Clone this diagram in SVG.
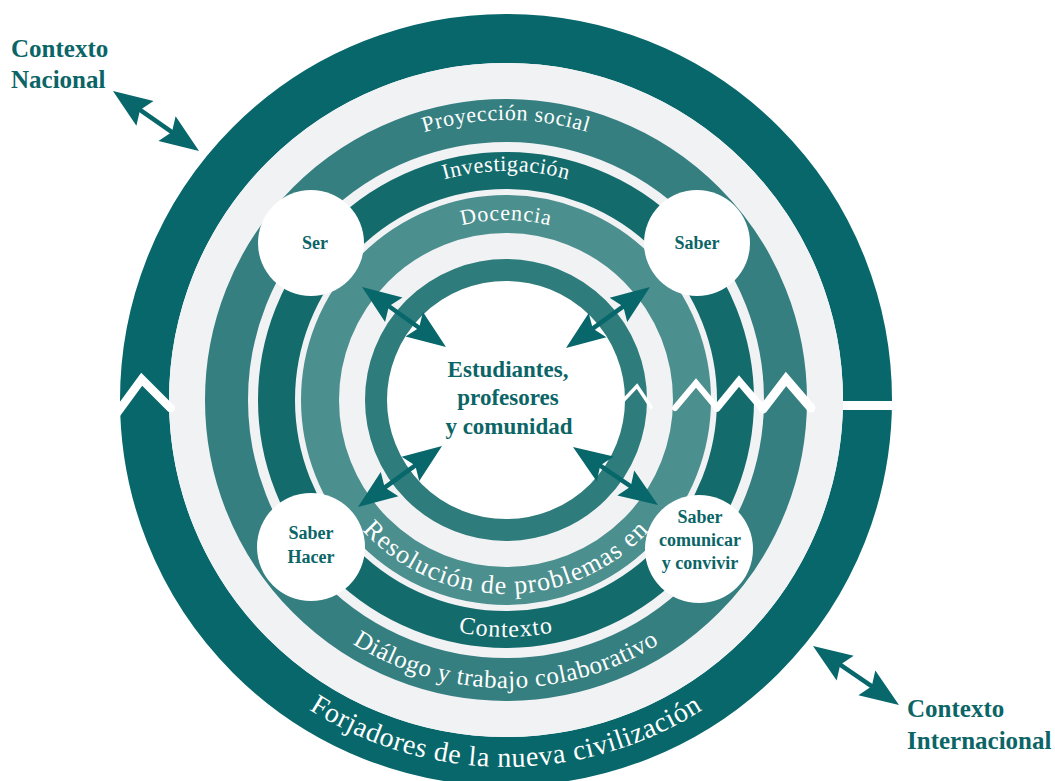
<svg xmlns="http://www.w3.org/2000/svg" xmlns:xlink="http://www.w3.org/1999/xlink" width="1055" height="781" viewBox="0 0 1055 781">
  <style>
    .ring { fill: none; }
    .band { fill: #ffffff; font-family: "Liberation Serif", "DejaVu Serif", serif; }
    .lbl { fill: #0b6567; font-family: "Liberation Serif", "DejaVu Serif", serif; font-weight: bold; text-anchor: middle; }
    .side { text-anchor: start; }
    .node { fill: #ffffff; }
    .zig { fill: none; stroke: #ffffff; stroke-linecap: round; stroke-linejoin: miter; }
    .arrow { stroke: #07676a; stroke-width: 4.5; fill: none; marker-start: url(#head); marker-end: url(#head); }
  </style>
  <defs>
    <marker id="head" markerUnits="userSpaceOnUse" markerWidth="40" markerHeight="32" refX="27" refY="16" orient="auto-start-reverse" overflow="visible">
      <path d="M39,16 L0,1 L6,16 L0,31 Z" fill="#07676a"/>
    </marker>
    <!-- text baselines: top arcs run left to right over the top, bottom arcs run left to right under the bottom -->
    <path id="pTopProy" d="M 226,400 A 280 280 0 0 1 786,400"/>
    <path id="pTopInv" d="M 277,400 A 229 229 0 0 1 735,400"/>
    <path id="pTopDoc" d="M 326,400 A 180 180 0 0 1 686,400"/>
    <path id="pBotRes" d="M 312,400 A 194 194 0 0 0 700,400"/>
    <path id="pBotCtx" d="M 269,400 A 237 237 0 0 0 743,400"/>
    <path id="pBotDia" d="M 218,400 A 288 288 0 0 0 794,400"/>
    <path id="pBotFor" d="M 139,400 A 367 367 0 0 0 873,400"/>
  </defs>

  <rect width="1055" height="781" fill="#ffffff"/>

  <!-- concentric bands -->
  <g id="rings">
    <circle cx="506" cy="400" r="361.5" class="ring" stroke="#07676a" stroke-width="49"/>
    <circle cx="506" cy="400" r="337" fill="#f1f2f4"/>
    <circle cx="506" cy="400" r="279.5" class="ring" stroke="#357f80" stroke-width="43"/>
    <circle cx="506" cy="400" r="229.5" class="ring" stroke="#146b6c" stroke-width="37"/>
    <circle cx="506" cy="400" r="186" class="ring" stroke="#4b8f8e" stroke-width="38"/>
    <circle cx="506" cy="400" r="130" fill="#ffffff" stroke="#2e7c7b" stroke-width="22"/>
  </g>

  <!-- white breaks across the bands -->
  <g id="breaks">
    <polyline class="zig" stroke-width="8.5" points="117,413 141.7,379.3 170.7,408.3"/>
    <polyline class="zig" stroke-width="3.5" points="621,403 637,386 651,407"/>
    <polyline class="zig" stroke-width="6" points="675,408 696,383 717,408"/>
    <polyline class="zig" stroke-width="7.5" points="717,408 739,381 763,409"/>
    <polyline class="zig" stroke-width="9" points="763,409 786,379 811,408"/>
    <rect x="843" y="401" width="53" height="9" fill="#ffffff"/>
  </g>

  <!-- band titles -->
  <g id="band-labels" class="band">
    <text font-size="22" letter-spacing="0.6"><textPath xlink:href="#pTopProy" startOffset="50%" text-anchor="middle">Proyección social</textPath></text>
    <text font-size="22" letter-spacing="0.55"><textPath xlink:href="#pTopInv" startOffset="50%" text-anchor="middle">Investigación</textPath></text>
    <text font-size="22" letter-spacing="0.8"><textPath xlink:href="#pTopDoc" startOffset="50%" text-anchor="middle">Docencia</textPath></text>
    <text font-size="26" letter-spacing="1.15"><textPath xlink:href="#pBotRes" startOffset="50%" text-anchor="middle">Resolución de problemas en</textPath></text>
    <text font-size="24" letter-spacing="1"><textPath xlink:href="#pBotCtx" startOffset="50%" text-anchor="middle">Contexto</textPath></text>
    <text font-size="25" letter-spacing="0.6"><textPath xlink:href="#pBotDia" startOffset="50%" text-anchor="middle">Diálogo y trabajo colaborativo</textPath></text>
    <text font-size="28" letter-spacing="0.7"><textPath xlink:href="#pBotFor" startOffset="50%" text-anchor="middle">Forjadores de la nueva civilización</textPath></text>
  </g>

  <!-- connectors -->
  <g id="connectors">
    <line class="arrow" x1="122.8" y1="97.9" x2="189.2" y2="144.1"/>
    <line class="arrow" x1="822.9" y1="652.8" x2="889.1" y2="698.2"/>
    <line class="arrow" x1="371.8" y1="294.0" x2="436.2" y2="340.0"/>
    <line class="arrow" x1="640.3" y1="294.1" x2="575.7" y2="340.9"/>
    <line class="arrow" x1="432.3" y1="453.1" x2="367.7" y2="499.9"/>
    <line class="arrow" x1="582.9" y1="453.8" x2="648.1" y2="498.2"/>
  </g>

  <!-- nodes -->
  <g id="node-center">
    <text class="lbl" font-size="23" x="508" y="377">Estudiantes,</text>
    <text class="lbl" font-size="23" x="508" y="405">profesores</text>
    <text class="lbl" font-size="23" x="509" y="434">y comunidad</text>
  </g>
  <g id="node-ser">
    <circle class="node" cx="311" cy="243" r="53"/>
    <text class="lbl" font-size="18" x="315" y="249">Ser</text>
  </g>
  <g id="node-saber">
    <circle class="node" cx="697" cy="243" r="53"/>
    <text class="lbl" font-size="18" x="697" y="249">Saber</text>
  </g>
  <g id="node-saber-hacer">
    <circle class="node" cx="311" cy="547" r="54"/>
    <text class="lbl" font-size="18" x="311" y="539">Saber</text>
    <text class="lbl" font-size="18" x="311" y="563">Hacer</text>
  </g>
  <g id="node-saber-comunicar">
    <circle class="node" cx="699" cy="549" r="54"/>
    <text class="lbl" font-size="18" x="700" y="523">Saber</text>
    <text class="lbl" font-size="18" x="700" y="546">comunicar</text>
    <text class="lbl" font-size="18" x="700" y="569">y convivir</text>
  </g>
  <g id="node-nacional">
    <text class="lbl side" font-size="25" x="11" y="57">Contexto</text>
    <text class="lbl side" font-size="25" x="11" y="88">Nacional</text>
  </g>
  <g id="node-internacional">
    <text class="lbl side" font-size="25" x="907" y="717">Contexto</text>
    <text class="lbl side" font-size="25" x="907" y="749">Internacional</text>
  </g>
</svg>
